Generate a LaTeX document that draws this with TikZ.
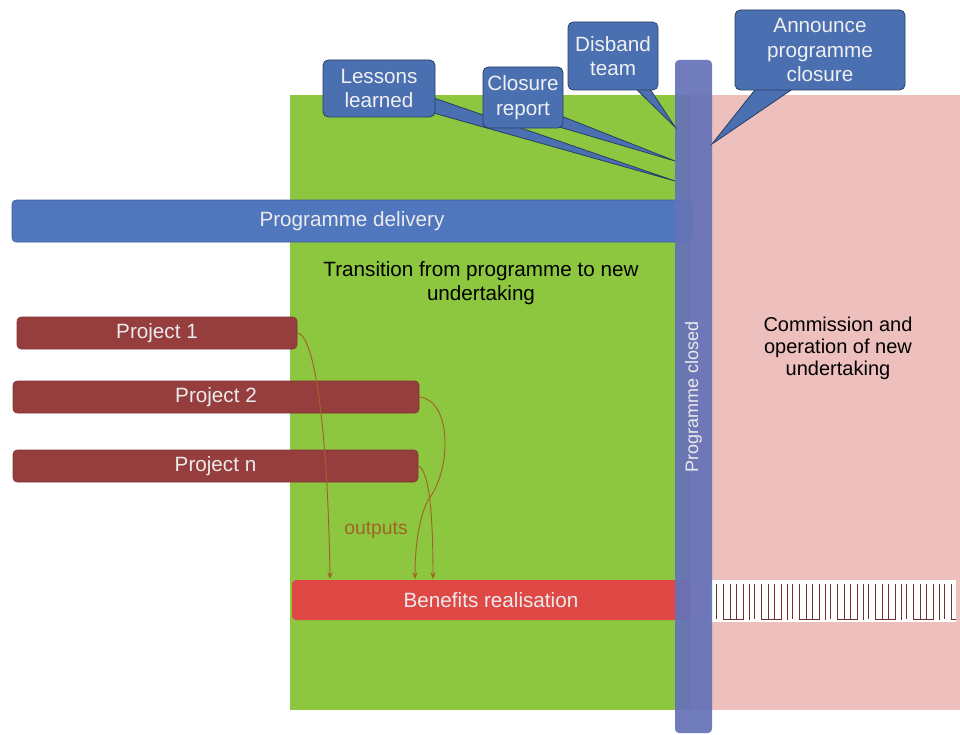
\documentclass[tikz,border=0pt]{standalone}
\usepackage{fontspec}
\setmainfont{Liberation Sans}
\usetikzlibrary{arrows.meta,positioning,calc}
\definecolor{transgreen}{RGB}{141,198,63}
\definecolor{newpink}{RGB}{237,191,189}
\definecolor{delblue}{RGB}{80,118,190}
\definecolor{closeblue}{RGB}{102,114,184}
\definecolor{callblue}{RGB}{74,112,178}
\definecolor{projbrown}{RGB}{150,62,62}
\definecolor{benred}{RGB}{224,72,70}
\definecolor{hatchred}{RGB}{110,50,50}
\definecolor{outbrown}{RGB}{160,100,40}
\tikzset{
  bar/.style={rounded corners=3pt,inner sep=0pt,text=white!92!black,
    font=\fontsize{15.5}{18}\selectfont},
  callout/.style={fill=callblue,draw=callblue!55!black,line width=0.6pt,rounded corners=4pt,
    text=white!94!black,align=center,inner sep=1pt,font=\fontsize{15.5}{18.5}\selectfont},
  tail/.style={fill=callblue,draw=callblue!55!black,line width=0.6pt},
  hatch/.style={draw=hatchred,line width=0.6pt},
  output/.style={draw=outbrown,line width=0.7pt,-{Stealth[length=5pt,width=4pt]}}
}
\begin{document}
\begin{tikzpicture}[x=0.75pt,y=-0.75pt]
\useasboundingbox (0,0) rectangle (960,735);
% background areas
\fill[transgreen] (290,95) rectangle (690,710);
\fill[newpink] (690,95) rectangle (960,710);
\node[align=center,font=\fontsize{15.5}{18}\selectfont] (trans) at (481,283)
  {Transition from programme to new\\undertaking};
\node[align=center,font=\fontsize{15}{16.5}\selectfont] (comm) at (838,348)
  {Commission and\\operation of new\\undertaking};
% bars
\node[bar,fill=delblue,draw=delblue!80!black,minimum width=510pt,minimum height=31.5pt] (deliv) at (352,221) {Programme delivery};
\node[bar,fill=projbrown,draw=projbrown!85!black,minimum width=210pt,minimum height=24pt] (p1) at (157,333) {Project 1};
\node[bar,fill=projbrown,draw=projbrown!85!black,minimum width=304.5pt,minimum height=24pt] (p2) at (216,397) {Project 2};
\node[bar,fill=projbrown,draw=projbrown!85!black,minimum width=303.75pt,minimum height=24pt] (pn) at (215.5,466) {Project n};
\node[bar,fill=benred,minimum width=298.5pt,minimum height=30pt] (ben) at (491,600) {Benefits realisation};
% hatched continuation
\fill[white] (710,580) rectangle (956,622);
\begin{scope}
\clip (710,580) rectangle (956,622);
\foreach \g in {0,...,6}{
  \draw[hatch] (716+\g*38,584) -- (716+\g*38,619);
  \draw[hatch] (723+\g*38,584) -- (723+\g*38,619) -- (743+\g*38,619) -- (743+\g*38,584);
  \draw[hatch] (730+\g*38,584) -- (730+\g*38,619);
  \draw[hatch] (736+\g*38,584) -- (736+\g*38,619);
  \draw[hatch] (749+\g*38,584) -- (749+\g*38,620);
}
\end{scope}
% outputs
\coordinate (b1) at (330,579);
\coordinate (b2) at (415,579);
\coordinate (b3) at (433,579);
\draw[output] (p1.east) .. controls (316,335) and (328,440) .. (b1);
\draw[output] (p2.east) .. controls (452,400) and (452,470) .. (428,500)
  .. controls (418,520) and (415,550) .. (b2);
\draw[output] (pn.east) .. controls (428,470) and (433,505) .. (b3);
\node[text=outbrown,font=\fontsize{14.5}{16}\selectfont] (outs) at (376,530) {outputs};
% programme closed
\node[bar,fill=closeblue,fill opacity=0.93,text opacity=1,minimum width=27.75pt,minimum height=504.75pt] (closed) at (693.5,396.5) {};
\node[rotate=90,text=white!92!black,font=\fontsize{13.5}{15}\selectfont] at (closed) {Programme closed};
% callouts
\coordinate (t1) at (675,181);
\coordinate (t2) at (675,161);
\coordinate (t3) at (675,127);
\coordinate (t4) at (712,144);
\filldraw[tail] (428,96) -- (t1) -- (430,112) -- cycle;
\node[callout,minimum width=84pt,minimum height=42.75pt] (lessons) at (379,88.5) {Lessons\\learned};
\filldraw[tail] (556,114) -- (t2) -- (556,126) -- cycle;
\node[callout,minimum width=60pt,minimum height=45.75pt] (report) at (523,97.5) {Closure\\report};
\filldraw[tail] (633,86) -- (t3) -- (648,86) -- cycle;
\node[callout,minimum width=67.5pt,minimum height=51pt] (disband) at (613,56) {Disband\\team};
\filldraw[tail] (758,86) -- (t4) -- (797,86) -- cycle;
\node[callout,minimum width=127.5pt,minimum height=60pt] (announce) at (820,50) {Announce\\programme\\closure};
\end{tikzpicture}
\end{document}
